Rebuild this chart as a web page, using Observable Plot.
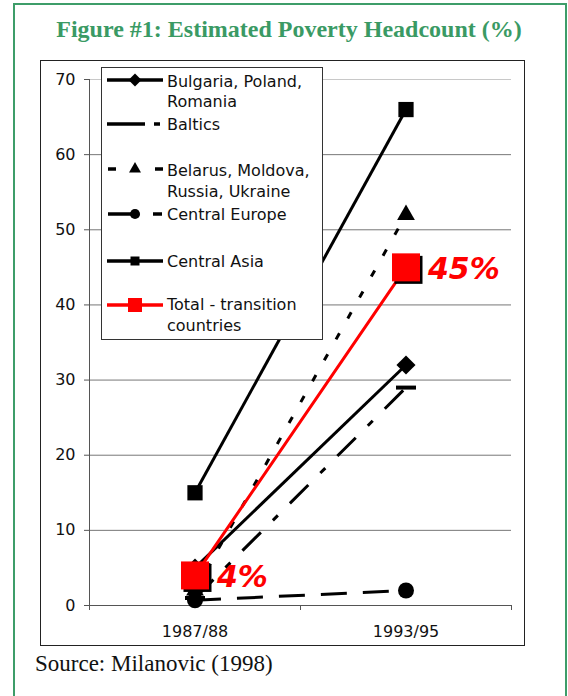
<!DOCTYPE html>
<html><head><meta charset="utf-8">
<script src="https://cdn.jsdelivr.net/npm/d3@7"></script>
<script src="https://cdn.jsdelivr.net/npm/@observablehq/plot@0.6"></script>
<style>
html,body{margin:0;padding:0;background:#fff;width:568px;height:696px;overflow:hidden;}
#frame{position:absolute;left:13px;top:3px;width:554px;height:760px;border:2px solid #3d9d69;box-sizing:border-box;}
#title{position:absolute;left:5px;width:568px;top:15px;line-height:28px;text-align:center;font-family:"Liberation Serif",serif;font-weight:bold;font-size:24px;color:#3a9a64;}
#box{position:absolute;left:40px;top:60px;width:485px;height:586px;border:1.5px solid #222;box-sizing:border-box;}
#chart{position:absolute;left:40px;top:60px;}
#legend{position:absolute;left:101px;top:67px;width:222px;height:273px;border:1.5px solid #333;background:#fff;box-sizing:border-box;}
#legsvg{position:absolute;left:0;top:0;}
#source{position:absolute;left:35px;top:651px;line-height:26px;font-family:"Liberation Serif",serif;font-size:23px;color:#111;}
</style>
</head><body>
<div id="frame"></div>
<div id="title">Figure #1: Estimated Poverty Headcount (%)</div>
<div id="chart"></div>
<div id="box"></div>
<div id="legend"></div>
<svg id="legsvg" width="568" height="696"></svg>
<div id="source">Source: Milanovic (1998)</div>
<script>
// ---- data ----
const periods = ["1987/88", "1993/95"];
const series = ["Bulgaria, Poland, Romania", "Baltics", "Belarus, Moldova, Russia, Ukraine", "Central Europe", "Central Asia", "Total - transition countries"];
const bulgariaPolandRomania = [5, 32];
const baltics = [1, 29];
const belarusMoldovaRussiaUkraine = [2, 52];
const centralEurope = [0.7, 2];
const centralAsia = [15, 66];
const totalTransition = [4, 45];
const yTicks = [0, 10, 20, 30, 40, 50, 60, 70];
const legendLabels = [["Bulgaria, Poland,", "Romania"], ["Baltics"], ["Belarus, Moldova,", "Russia, Ukraine"], ["Central Europe"], ["Central Asia"], ["Total - transition", "countries"]];

// ---- build table ----
const seriesValues = [bulgariaPolandRomania, baltics, belarusMoldovaRussiaUkraine, centralEurope, centralAsia, totalTransition];
const rows = series.flatMap((s, i) => periods.map((p, j) => ({series: s, period: p, pos: j + 0.5, value: seriesValues[i][j]})));
const bySeries = s => rows.filter(r => r.series === s);

const dashSymbol = {draw(ctx) { ctx.rect(-10, -2, 20, 4); }};
const styles = [
  {dash: null, symbol: "diamond2", r: 8.6},
  {dash: "26,17,7,17", symbol: dashSymbol, r: 8},
  {dash: "7,17", symbol: "triangle", r: 6.6},
  {dash: "26,16", symbol: "circle", r: 8},
  {dash: null, symbol: "square", r: 8.6},
];

const marks = [
  Plot.ruleY(yTicks.filter(d => d > 0 && d < 70), {stroke: "#777", strokeWidth: 1}),
  Plot.ruleY([70], {stroke: "#c8c8c8", strokeWidth: 1}),
  Plot.ruleX([0], {y1: 0, y2: 70, stroke: "#555"}),
  Plot.ruleY([0], {stroke: "#555"}),
  Plot.axisY({ticks: yTicks, tickSize: 5, tickPadding: 9, stroke: "#555", fill: "#111", fontSize: 16, label: null}),
  Plot.axisX({ticks: [0, 1, 2], tickSize: 5, tickFormat: () => "", stroke: "#555", label: null}),
  Plot.axisX({ticks: [0.5, 1.5], tickSize: 0, tickPadding: 20, tickFormat: d => periods[Math.round(d - 0.5)], fill: "#111", fontSize: 16, label: null}),
];
styles.forEach((st, i) => {
  marks.push(Plot.line(bySeries(series[i]), {x: "pos", y: "value", stroke: "#000", strokeWidth: 3, strokeDasharray: st.dash, strokeLinecap: "butt"}));
});
styles.forEach((st, i) => {
  marks.push(Plot.dot(bySeries(series[i]), {x: "pos", y: "value", symbol: st.symbol, r: st.r, fill: "#000", stroke: "none"}));
});
const tot = bySeries(series[5]);
marks.push(
  Plot.line(tot, {x: "pos", y: "value", stroke: "#ff0000", strokeWidth: 3}),
  Plot.dot(tot, {x: "pos", y: "value", symbol: "square", r: 15.8, fill: "#000", dx: 2.5, dy: 2.5}),
  Plot.dot(tot, {x: "pos", y: "value", symbol: "square", r: 15.8, fill: "#ff0000"}),
  Plot.text(tot, {x: "pos", y: "value", text: d => d.value + "%", dx: 22, dy: 2, textAnchor: "start", fill: "#ff0000", fontWeight: "bold", fontStyle: "italic", fontSize: 30})
);

const chart = Plot.plot({
  width: 484, height: 585,
  marginLeft: 49, marginRight: 13, marginTop: 19, marginBottom: 40,
  x: {type: "linear", domain: [0, 2], label: null},
  y: {domain: [0, 70], label: null},
  style: {fontFamily: "DejaVu Sans", fontSize: "16px", background: "transparent", overflow: "visible", color: "#111"},
  marks
});
document.getElementById("chart").appendChild(chart);

// ---- legend ----
const legendLayout = [
  {y: 80, segs: [[107, 163]], sym: d3.symbolDiamond2, size: 108, color: "#000", base: [87, 107]},
  {y: 124, segs: [[107, 145], [154, 160]], sym: null, color: "#000", base: [130]},
  {y: 169, segs: [[108, 116], [155, 163]], sym: d3.symbolTriangle, size: 62, color: "#000", base: [176, 197]},
  {y: 214, segs: [[108, 132], [153, 162]], sym: d3.symbolCircle, size: 80, color: "#000", base: [220]},
  {y: 261, segs: [[107, 163]], sym: d3.symbolSquare, size: 81, color: "#000", base: [267]},
  {y: 305, segs: [[107, 163]], sym: d3.symbolSquare, size: 196, color: "#ff0000", base: [310, 331]},
];
const leg = d3.select("#legsvg");
legendLayout.forEach((L, i) => {
  L.segs.forEach(([a, b]) => leg.append("line").attr("x1", a).attr("x2", b).attr("y1", L.y).attr("y2", L.y)
    .attr("stroke", L.color).attr("stroke-width", 3.5));
  if (L.sym) leg.append("path").attr("d", d3.symbol(L.sym, L.size)()).attr("transform", `translate(135,${L.y})`).attr("fill", L.color);
  legendLabels[i].forEach((t, k) => leg.append("text").attr("x", 167).attr("y", L.base[k]).text(t)
    .attr("font-family", "DejaVu Sans").attr("font-size", 16).attr("fill", "#111"));
});
</script>
</body></html>
